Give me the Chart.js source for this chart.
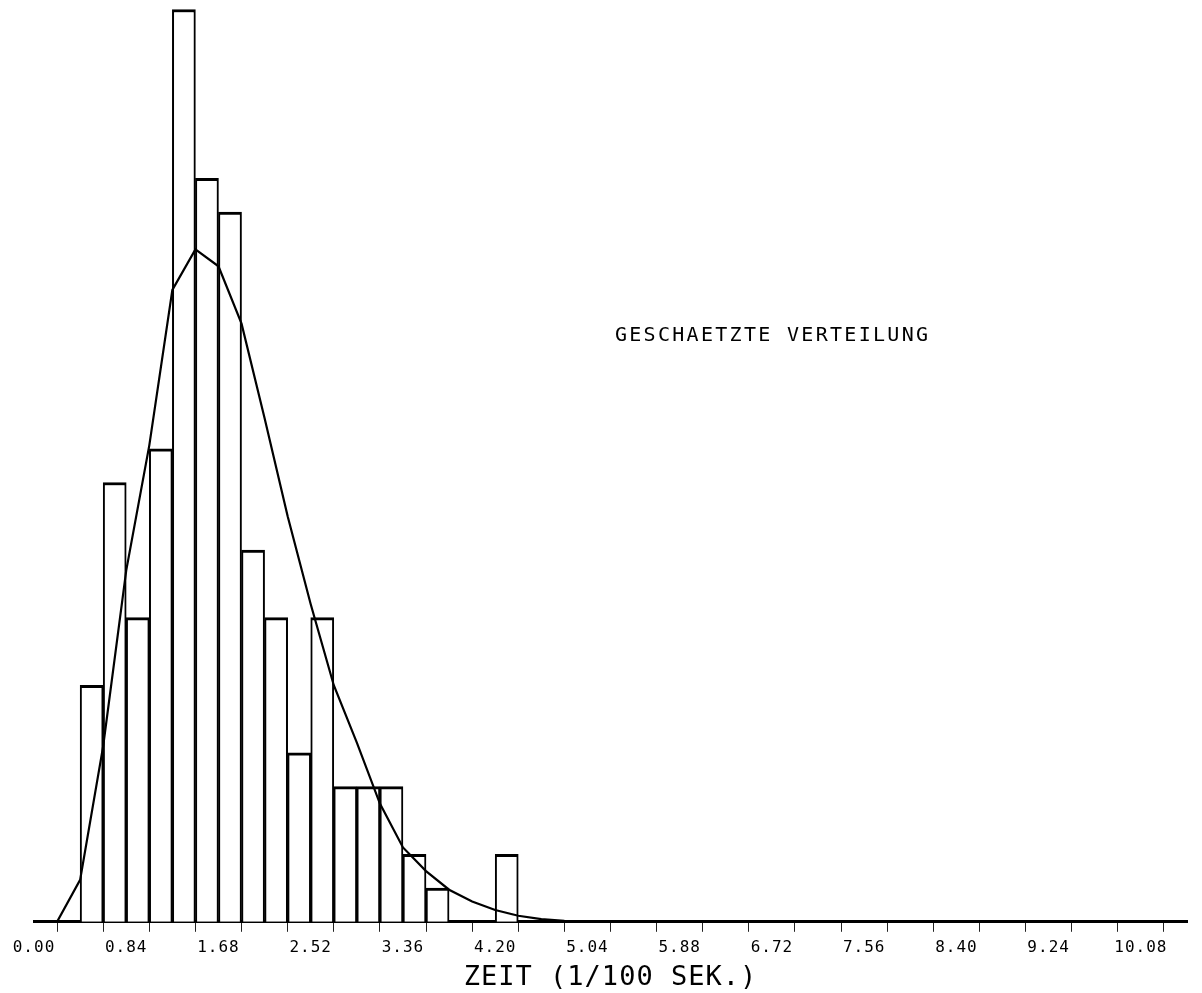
<!DOCTYPE html>
<html>
<head>
<meta charset="utf-8">
<script src="https://cdn.jsdelivr.net/npm/chart.js@4"></script>
<style>
  html, body { margin: 0; padding: 0; background: #ffffff; }
  #wrap { width: 1202px; height: 993px; position: relative; }
</style>
</head>
<body>
<div id="wrap"><canvas id="c"></canvas></div>
<script>
// ---- data ----
const binCenters = [0.525, 0.735, 0.945, 1.155, 1.365, 1.575, 1.785, 1.995, 2.205, 2.415,
                    2.625, 2.835, 3.045, 3.255, 3.465, 3.675, 3.885, 4.095, 4.305];
const binCounts  = [7, 13, 9, 14, 27, 22, 21, 11, 9, 5,
                    9, 4, 4, 4, 2, 1, 0, 0, 2];

const curveX = [0.00, 0.21, 0.42, 0.63, 0.84, 1.05, 1.26, 1.47, 1.68, 1.89,
                2.10, 2.31, 2.52, 2.73, 2.94, 3.15, 3.36, 3.57, 3.78, 3.99,
                4.20, 4.41, 4.62, 4.83, 5.04, 5.25, 10.50];
const curveY = [0, 0, 1.24, 5.2, 10.4, 14.1, 18.7, 19.9, 19.4, 17.7,
                14.9, 12.0, 9.4, 7.0, 5.3, 3.5, 2.2, 1.5, 0.95, 0.6,
                0.35, 0.18, 0.08, 0.03, 0.01, 0, 0];

const tickLabels = ['0.00', '0.84', '1.68', '2.52', '3.36', '4.20', '5.04',
                    '5.88', '6.72', '7.56', '8.40', '9.24', '10.08'];
const axisTitle = 'ZEIT (1/100 SEK.)';
const annotText = 'GESCHAETZTE VERTEILUNG';
const annotPos = { x: 5.29, y: 17.34 };

// ---- chart ----
Chart.defaults.font.family = '"DejaVu Sans Mono", "Liberation Mono", monospace';
Chart.defaults.color = '#000';

const annotPlugin = {
  id: 'annot',
  beforeDraw(chart) {
    chart.ctx.letterSpacing = '1px';
  },
  afterDraw(chart) {
    const ctx = chart.ctx;
    ctx.save();
    ctx.letterSpacing = '2.3px';
    ctx.font = '20px "DejaVu Sans Mono"';
    ctx.fillStyle = '#000';
    ctx.textAlign = 'left';
    ctx.textBaseline = 'middle';
    const px = chart.scales.x.getPixelForValue(annotPos.x);
    const py = chart.scales.y.getPixelForValue(annotPos.y);
    ctx.fillText(annotText, px, py);
    ctx.restore();
  }
};

new Chart(document.getElementById('c'), {
  data: {
    datasets: [
      {
        type: 'line',
        label: 'curve',
        data: curveX.map((x, i) => ({ x: x, y: curveY[i] })),
        borderColor: '#000',
        borderWidth: 2.2,
        pointRadius: 0,
        tension: 0,
        fill: false,
        order: 0
      },
      {
        type: 'bar',
        label: 'hist',
        data: binCenters.map((x, i) => ({ x: x, y: binCounts[i] })),
        backgroundColor: '#fff',
        borderColor: '#000',
        borderWidth: { top: 3, left: 2, right: 2, bottom: 0 },
        borderSkipped: 'start',
        barPercentage: 1.0,
        categoryPercentage: 1.0,
        grouped: false,
        order: 1
      }
    ]
  },
  options: {
    responsive: true,
    maintainAspectRatio: false,
    animation: false,
    layout: { padding: { left: 34, right: 15, top: 0, bottom: 0 } },
    plugins: { legend: { display: false }, tooltip: { enabled: false } },
    scales: {
      x: {
        type: 'linear',
        min: 0,
        max: 10.5,
        offset: false,
        border: { display: true, color: '#000', width: 3 },
        grid: { display: true, drawOnChartArea: false, drawTicks: true,
                tickLength: 10, tickColor: '#222', tickWidth: 1 },
        ticks: {
          stepSize: 0.42,
          autoSkip: false,
          maxRotation: 0,
          minRotation: 0,
          padding: 6,
          color: '#000',
          font: { size: 16 },
          callback: function (v) {
            const lab = tickLabels.find(t => Math.abs(parseFloat(t) - v) < 1e-6);
            return lab === undefined ? '' : lab;
          }
        },
        title: {
          display: true,
          text: axisTitle,
          color: '#000',
          font: { size: 27, lineHeight: 1.0 },
          padding: { top: 1, bottom: 2 }
        }
      },
      y: {
        display: false,
        min: 0,
        max: 27.28
      }
    }
  },
  plugins: [annotPlugin]
});
</script>
</body>
</html>
